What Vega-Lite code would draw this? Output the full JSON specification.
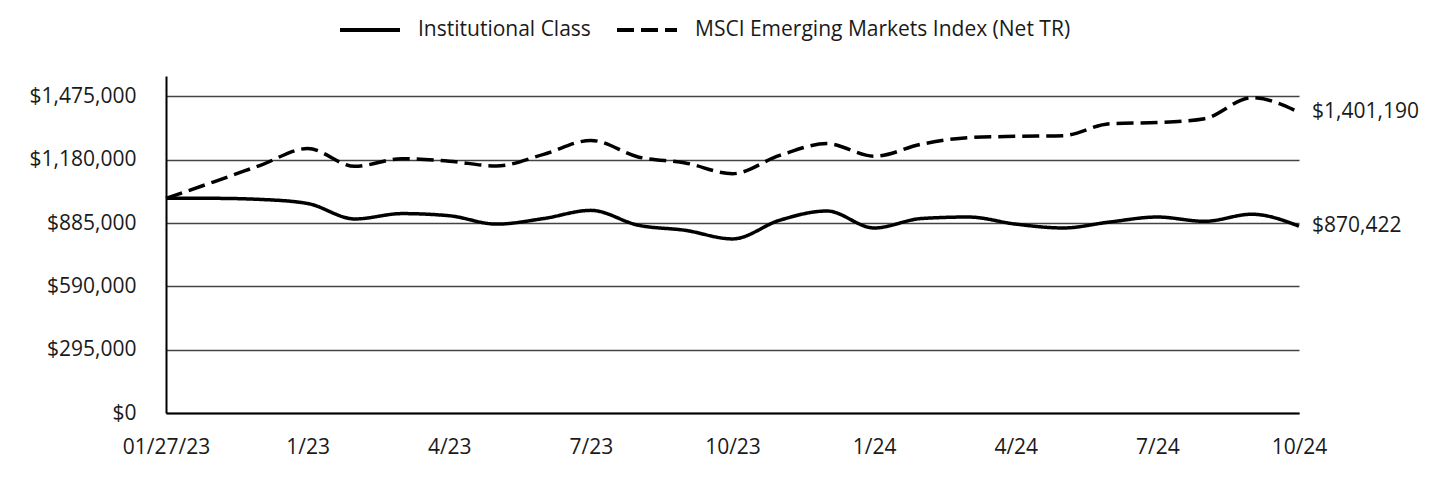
{
  "$schema": "https://vega.github.io/schema/vega-lite/v6.json",
  "autosize": {"type": "none"},
  "width": 1133,
  "height": 337,
  "padding": {"left": 166, "top": 76, "right": 141, "bottom": 67},
  "background": "white",
  "config": {
    "font": "Open Sans",
    "view": {"stroke": null},
    "axis": {"labelFont": "Open Sans", "labelFontSize": 21, "labelColor": "#1a1a1a"},
    "legend": {"labelFont": "Open Sans", "labelFontSize": 21, "labelColor": "#1a1a1a"}
  },
  "data": {
    "values": [
      {"i": 0, "series": "Institutional Class", "value": 1000000},
      {"i": 1, "series": "Institutional Class", "value": 1000000},
      {"i": 2, "series": "Institutional Class", "value": 995000},
      {"i": 3, "series": "Institutional Class", "value": 976000},
      {"i": 4, "series": "Institutional Class", "value": 904000},
      {"i": 5, "series": "Institutional Class", "value": 929000},
      {"i": 6, "series": "Institutional Class", "value": 919000},
      {"i": 7, "series": "Institutional Class", "value": 880000},
      {"i": 8, "series": "Institutional Class", "value": 906000},
      {"i": 9, "series": "Institutional Class", "value": 944000},
      {"i": 10, "series": "Institutional Class", "value": 875000},
      {"i": 11, "series": "Institutional Class", "value": 851000},
      {"i": 12, "series": "Institutional Class", "value": 811000},
      {"i": 13, "series": "Institutional Class", "value": 898000},
      {"i": 14, "series": "Institutional Class", "value": 941000},
      {"i": 15, "series": "Institutional Class", "value": 862000},
      {"i": 16, "series": "Institutional Class", "value": 906000},
      {"i": 17, "series": "Institutional Class", "value": 913000},
      {"i": 18, "series": "Institutional Class", "value": 880000},
      {"i": 19, "series": "Institutional Class", "value": 862000},
      {"i": 20, "series": "Institutional Class", "value": 890000},
      {"i": 21, "series": "Institutional Class", "value": 913000},
      {"i": 22, "series": "Institutional Class", "value": 893000},
      {"i": 23, "series": "Institutional Class", "value": 926000},
      {"i": 24, "series": "Institutional Class", "value": 870422},
      {"i": 0, "series": "MSCI Emerging Markets Index (Net TR)", "value": 1000000},
      {"i": 1, "series": "MSCI Emerging Markets Index (Net TR)", "value": 1076000},
      {"i": 2, "series": "MSCI Emerging Markets Index (Net TR)", "value": 1154000},
      {"i": 3, "series": "MSCI Emerging Markets Index (Net TR)", "value": 1232000},
      {"i": 4, "series": "MSCI Emerging Markets Index (Net TR)", "value": 1149000},
      {"i": 5, "series": "MSCI Emerging Markets Index (Net TR)", "value": 1185000},
      {"i": 6, "series": "MSCI Emerging Markets Index (Net TR)", "value": 1173000},
      {"i": 7, "series": "MSCI Emerging Markets Index (Net TR)", "value": 1151000},
      {"i": 8, "series": "MSCI Emerging Markets Index (Net TR)", "value": 1205000},
      {"i": 9, "series": "MSCI Emerging Markets Index (Net TR)", "value": 1270000},
      {"i": 10, "series": "MSCI Emerging Markets Index (Net TR)", "value": 1193000},
      {"i": 11, "series": "MSCI Emerging Markets Index (Net TR)", "value": 1165000},
      {"i": 12, "series": "MSCI Emerging Markets Index (Net TR)", "value": 1115000},
      {"i": 13, "series": "MSCI Emerging Markets Index (Net TR)", "value": 1200000},
      {"i": 14, "series": "MSCI Emerging Markets Index (Net TR)", "value": 1255000},
      {"i": 15, "series": "MSCI Emerging Markets Index (Net TR)", "value": 1196000},
      {"i": 16, "series": "MSCI Emerging Markets Index (Net TR)", "value": 1252000},
      {"i": 17, "series": "MSCI Emerging Markets Index (Net TR)", "value": 1283000},
      {"i": 18, "series": "MSCI Emerging Markets Index (Net TR)", "value": 1289000},
      {"i": 19, "series": "MSCI Emerging Markets Index (Net TR)", "value": 1292000},
      {"i": 20, "series": "MSCI Emerging Markets Index (Net TR)", "value": 1348000},
      {"i": 21, "series": "MSCI Emerging Markets Index (Net TR)", "value": 1353000},
      {"i": 22, "series": "MSCI Emerging Markets Index (Net TR)", "value": 1371000},
      {"i": 23, "series": "MSCI Emerging Markets Index (Net TR)", "value": 1469000},
      {"i": 24, "series": "MSCI Emerging Markets Index (Net TR)", "value": 1401190}
    ]
  },
  "encoding": {
    "x": {
      "field": "i",
      "type": "quantitative",
      "scale": {"domain": [0, 24], "nice": false, "zero": false},
      "axis": {
        "title": null,
        "values": [0, 3, 6, 9, 12, 15, 18, 21, 24],
        "labelExpr": "['01/27/23','1/23','4/23','7/23','10/23','1/24','4/24','7/24','10/24'][round(datum.value/3)]",
        "grid": false,
        "ticks": false,
        "labelPadding": 23,
        "domainColor": "black",
        "domainWidth": 2,
        "labelFlush": false,
        "labelOverlap": false
      }
    },
    "y": {
      "field": "value",
      "type": "quantitative",
      "scale": {"domain": [0, 1570000], "nice": false},
      "axis": {
        "title": null,
        "values": [0, 295000, 590000, 885000, 1180000, 1475000],
        "format": "$,.0f",
        "grid": true,
        "gridColor": "#444444",
        "gridWidth": 1.5,
        "ticks": false,
        "labelPadding": 30,
        "domainColor": "black",
        "domainWidth": 2
      }
    }
  },
  "layer": [
    {
      "mark": {"type": "line", "interpolate": "monotone", "strokeWidth": 3.5},
      "encoding": {
        "color": {
          "field": "series",
          "type": "nominal",
          "scale": {"domain": ["Institutional Class", "MSCI Emerging Markets Index (Net TR)"], "range": ["black", "black"]},
          "legend": {
            "title": null,
            "orient": "none",
            "direction": "horizontal",
            "legendX": 172,
            "legendY": -78,
            "symbolType": "stroke",
            "symbolSize": 3600,
            "symbolStrokeWidth": 4,
            "labelOffset": 16,
            "labelLimit": 600,
            "columnPadding": 18
          }
        },
        "strokeDash": {
          "field": "series",
          "type": "nominal",
          "scale": {"domain": ["Institutional Class", "MSCI Emerging Markets Index (Net TR)"], "range": [[1, 0], [17, 7]]},
          "legend": {
            "title": null,
            "orient": "none",
            "direction": "horizontal",
            "legendX": 172,
            "legendY": -78,
            "symbolType": "stroke",
            "symbolSize": 3600,
            "symbolStrokeWidth": 4,
            "labelOffset": 16,
            "labelLimit": 600,
            "columnPadding": 18
          }
        }
      }
    },
    {
      "transform": [{"filter": "datum.i == 24"}],
      "mark": {"type": "text", "align": "left", "baseline": "middle", "dx": 13, "fontSize": 21, "font": "Open Sans", "color": "#1a1a1a"},
      "encoding": {
        "text": {"field": "value", "type": "quantitative", "format": "$,.0f"}
      }
    }
  ]
}
